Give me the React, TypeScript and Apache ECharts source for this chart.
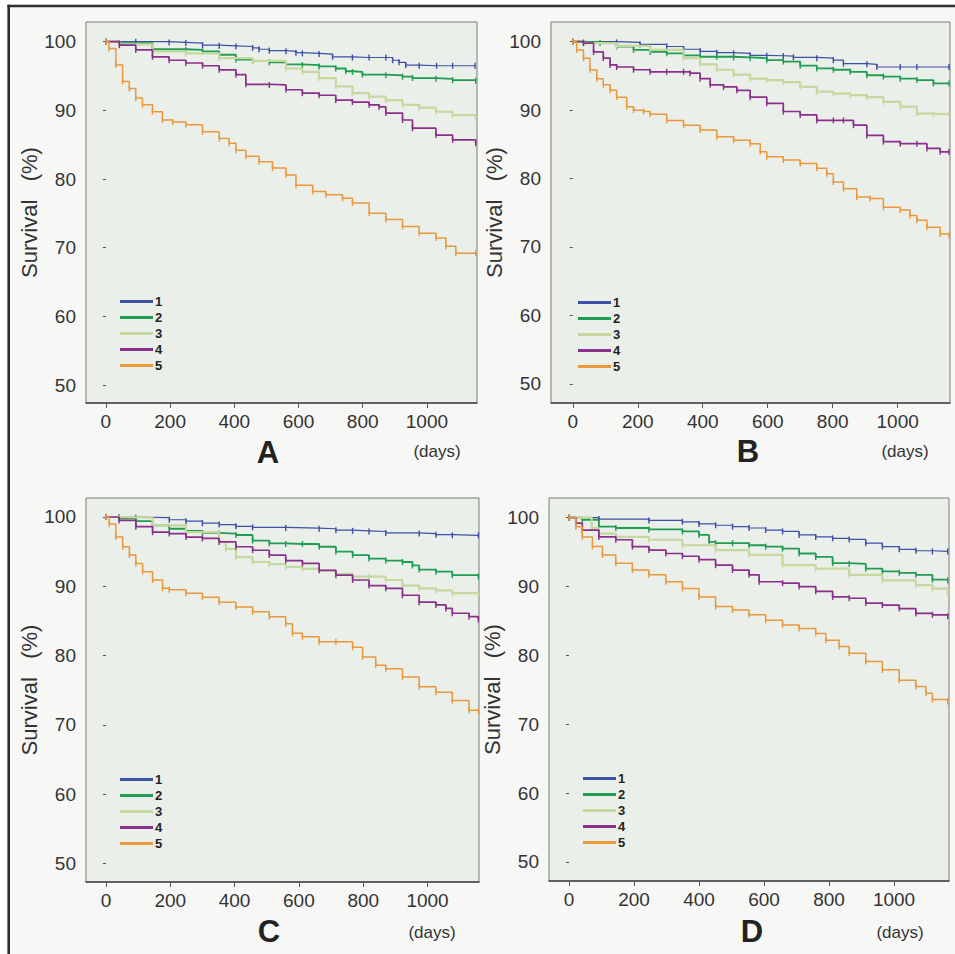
import { useEffect, useRef } from 'react';
import * as echarts from 'echarts';

type Pt = [number, number];

const GROUPS = ['1', '2', '3', '4', '5'];
const PANEL_LETTERS = ['A', 'B', 'C', 'D'];
const X_TICKS = [0, 200, 400, 600, 800, 1000];
const Y_TICKS = [50, 60, 70, 80, 90, 100];
const Y_NAME = 'Survival\u00a0\u00a0\u00a0(%)';
const X_UNIT = '(days)';

// Panel A
const a1: Pt[] = [[0,100],[93,100],[197,99.9],[249,99.8],[301,99.5],[353,99.4],[405,99.3],[457,99.1],[477,98.9],[509,98.7],[561,98.6],[592,98.4],[612,98.3],[664,98.2],[706,97.8],[768,97.7],[820,97.7],[872,97.7],[893,97.3],[913,97.0],[934,96.6],[976,96.5],[1030,96.5],[1080,96.5],[1150,96.5]];
const a2: Pt[] = [[0,100],[42,99.8],[145,98.9],[249,98.8],[301,98.6],[353,98.1],[405,97.4],[457,97.2],[509,97.0],[561,96.7],[612,96.6],[664,96.4],[716,96.1],[747,95.7],[768,95.6],[799,95.2],[872,95.1],[924,94.9],[955,94.7],[1028,94.6],[1080,94.4],[1152,94.3]];
const a3: Pt[] = [[0,100],[42,99.6],[145,98.6],[249,98.3],[353,97.6],[457,97.2],[561,96.1],[612,95.6],[664,94.7],[716,93.5],[768,92.5],[820,92.0],[872,91.5],[924,90.8],[976,90.4],[1028,89.8],[1080,89.3],[1152,88.9]];
const a4: Pt[] = [[0,100],[42,99.5],[93,98.8],[145,97.8],[197,97.3],[249,96.9],[301,96.5],[353,95.9],[405,95.2],[436,93.8],[509,93.7],[561,93.0],[612,92.5],[664,92.2],[716,91.5],[768,91.2],[820,90.8],[851,90.5],[872,89.6],[924,88.6],[955,87.4],[1028,86.4],[1080,85.7],[1152,85.2]];
const a5: Pt[] = [[0,100],[10,99.0],[31,96.6],[52,94.2],[73,93.2],[93,91.8],[114,90.8],[145,89.8],[176,88.6],[208,88.3],[249,87.9],[301,86.9],[353,85.9],[384,85.2],[405,84.2],[436,83.3],[477,82.5],[519,81.6],[561,80.6],[592,79.1],[644,78.2],[685,77.7],[737,77.2],[768,76.5],[820,75.0],[872,74.1],[924,73.1],[976,72.1],[1028,71.4],[1059,70.2],[1090,69.2],[1152,69.2]];

// Panel B
const b1: Pt[] = [[0,100],[135,99.9],[207,99.6],[289,99.3],[341,98.9],[392,98.6],[443,98.4],[495,98.3],[546,98.0],[597,97.95],[648,97.9],[679,97.7],[751,97.6],[802,97.3],[833,96.8],[905,96.7],[936,96.3],[1008,96.3],[1059,96.3],[1158,96.3]];
const b2: Pt[] = [[0,100],[33,99.9],[84,99.8],[135,99.3],[187,98.8],[238,98.5],[289,98.3],[341,98.0],[392,97.8],[443,97.8],[495,97.7],[546,97.6],[597,97.3],[648,97.1],[700,96.5],[751,96.1],[802,95.9],[854,95.6],[905,95.1],[956,94.9],[1008,94.6],[1059,94.4],[1110,93.9],[1158,93.9]];
const b3: Pt[] = [[0,100],[33,99.8],[135,99.4],[238,98.8],[341,97.6],[392,96.7],[443,95.9],[495,95.2],[546,94.6],[597,94.4],[648,94.1],[700,93.4],[751,92.7],[802,92.4],[854,92.2],[905,91.9],[956,91.2],[1008,90.5],[1059,89.5],[1110,89.4],[1158,89.4]];
const b4: Pt[] = [[0,100],[33,99.8],[64,98.5],[94,97.6],[115,96.6],[135,96.3],[187,95.9],[238,95.6],[289,95.6],[341,95.6],[361,95.4],[392,94.6],[423,93.7],[464,93.4],[505,92.9],[546,91.9],[597,91.0],[648,89.8],[700,89.3],[751,88.5],[802,88.5],[833,88.5],[864,87.8],[905,86.3],[956,85.4],[1008,85.1],[1059,85.1],[1090,84.4],[1131,83.9],[1158,83.9]];
const b5: Pt[] = [[0,100],[12,98.8],[33,97.6],[53,95.9],[74,94.6],[94,93.7],[115,92.9],[135,91.9],[166,90.5],[187,90.0],[218,89.8],[238,89.4],[289,88.5],[341,87.8],[392,87.1],[443,86.1],[495,85.6],[546,85.1],[577,83.9],[597,83.2],[648,82.7],[700,82.2],[751,81.5],[782,80.7],[802,79.5],[833,78.5],[874,77.3],[915,77.1],[956,75.8],[1008,75.4],[1038,74.6],[1059,73.9],[1090,72.9],[1131,71.9],[1158,71.7]];

// Panel C
const c1: Pt[] = [[0,100],[41,100],[93,99.9],[197,99.6],[249,99.4],[300,99.1],[352,98.9],[404,98.65],[456,98.5],[559,98.4],[663,98.3],[715,98.1],[767,98.0],[818,97.9],[870,97.7],[974,97.6],[1026,97.45],[1077,97.35],[1158,97.35]];
const c2: Pt[] = [[0,100],[41,99.8],[93,99.4],[145,98.8],[197,98.3],[249,98.0],[300,97.7],[352,97.6],[404,97.4],[456,96.6],[508,96.2],[559,96.1],[611,96.1],[663,95.7],[715,95.0],[767,94.5],[818,94.0],[870,93.7],[922,93.5],[953,93.0],[974,92.4],[1026,92.1],[1077,91.6],[1158,91.4]];
const c3: Pt[] = [[0,100],[41,99.9],[145,98.8],[249,97.8],[352,96.4],[373,95.4],[404,94.2],[456,93.5],[508,93.2],[559,92.8],[611,92.5],[663,92.3],[715,91.8],[767,91.4],[818,91.4],[870,90.9],[922,90.1],[974,89.7],[1026,89.4],[1077,89.0],[1158,88.8]];
const c4: Pt[] = [[0,100],[41,99.5],[93,98.6],[145,97.8],[197,97.6],[249,97.1],[300,96.9],[352,96.4],[404,95.7],[456,95.2],[508,94.5],[559,93.7],[611,93.3],[663,92.3],[715,91.6],[767,90.9],[818,90.1],[870,89.7],[922,88.7],[974,87.7],[1026,87.3],[1057,86.8],[1077,86.1],[1129,85.6],[1158,85.2]];
const c5: Pt[] = [[0,100],[10,99.0],[31,97.1],[52,95.7],[73,94.5],[93,93.3],[114,92.1],[145,90.9],[176,89.7],[197,89.5],[249,89.0],[300,88.4],[352,87.7],[404,87.0],[456,86.3],[508,85.6],[559,84.6],[580,83.2],[611,82.7],[663,82.0],[715,82.0],[767,81.2],[798,79.8],[839,78.6],[870,78.1],[922,76.9],[974,75.5],[1026,74.7],[1077,73.5],[1129,72.1],[1158,72.0]];

// Panel D
const d1: Pt[] = [[0,100],[92,99.8],[246,99.6],[349,99.4],[400,99.1],[451,98.9],[503,98.7],[554,98.5],[605,98.2],[657,98.0],[708,97.5],[759,97.2],[811,97.0],[862,96.85],[913,96.3],[964,95.8],[1016,95.4],[1067,95.2],[1118,95.1],[1165,95.1]];
const d2: Pt[] = [[0,100],[41,99.7],[92,98.7],[144,98.5],[246,98.3],[349,98.0],[400,97.5],[431,96.5],[451,96.3],[503,96.3],[554,96.0],[605,95.8],[657,95.5],[708,94.8],[759,94.3],[811,93.4],[862,93.3],[913,92.6],[964,92.2],[1016,92.0],[1067,91.7],[1118,91.0],[1165,90.9]];
const d3: Pt[] = [[0,100],[70,98.5],[92,97.7],[144,97.2],[246,96.8],[349,96.0],[451,95.3],[554,94.6],[657,93.1],[759,92.6],[862,91.7],[964,90.9],[1067,90.2],[1118,89.7],[1165,89.0]];
const d4: Pt[] = [[0,100],[21,99.2],[41,98.2],[92,97.2],[144,96.8],[195,95.8],[246,95.3],[298,94.8],[349,94.4],[400,93.9],[451,93.1],[503,92.4],[554,91.7],[585,90.7],[657,90.5],[708,90.0],[759,89.3],[811,88.5],[862,88.3],[913,87.6],[964,87.3],[1016,86.8],[1067,86.1],[1118,85.9],[1165,85.7]];
const d5: Pt[] = [[0,100],[21,98.7],[41,97.2],[72,95.8],[103,94.6],[144,93.4],[195,92.4],[246,91.7],[298,90.7],[349,89.7],[400,88.5],[451,87.1],[503,86.6],[554,85.9],[605,85.1],[657,84.4],[708,83.9],[759,83.2],[790,82.2],[831,81.3],[862,80.3],[913,79.1],[964,77.9],[1016,76.4],[1067,75.5],[1098,74.5],[1118,73.6],[1165,73.3]];

const PANEL_DATA: Pt[][][] = [
  [a1, a2, a3, a4, a5],
  [b1, b2, b3, b4, b5],
  [c1, c2, c3, c4, c5],
  [d1, d2, d3, d4, d5],
];

const COLORS = ['#3e4fa6', '#1f9d52', '#c5d89e', '#8a2f8b', '#eb983a'];
const WIDTHS = [1.2, 1.8, 2.2, 1.7, 1.5];

const LAYOUT = [
  { left: 86, top: 22, width: 391, height: 381, xMin: -62, xMax: 1156, yMin: 47.38, yMax: 102.87, lgX: 120, lgY: 294, letter: [268, 452], days: [437, 451] },
  { left: 551, top: 22, width: 399, height: 381, xMin: -67, xMax: 1161, yMin: 47.2, yMax: 102.88, lgX: 578, lgY: 295, letter: [748, 451], days: [905, 451] },
  { left: 86, top: 498, width: 393, height: 384, xMin: -62, xMax: 1160, yMin: 47.3, yMax: 102.74, lgX: 120, lgY: 772, letter: [269, 931], days: [432, 932] },
  { left: 549, top: 498, width: 400, height: 383, xMin: -61.5, xMax: 1169, yMin: 47.24, yMax: 102.86, lgX: 583, lgY: 771, letter: [752, 931], days: [900, 932] },
];

const FONT = 'Liberation Sans, Arial, Helvetica, sans-serif';

export default function App() {
  const ref = useRef<HTMLDivElement>(null);
  useEffect(() => {
    document.body.style.margin = '0';
    const chart = echarts.init(ref.current!, null, { renderer: 'svg' });

    const grid = LAYOUT.map((l) => ({
      left: l.left, top: l.top, width: l.width, height: l.height,
      show: true, backgroundColor: '#eaefe9', borderColor: '#7a7a7a', borderWidth: 1,
    }));
    const xAxis = LAYOUT.map((l, i) => ({
      type: 'value', gridIndex: i, min: l.xMin, max: l.xMax,
      axisLine: { show: true, onZero: false, lineStyle: { color: '#444', width: 1.5 } },
      axisTick: { show: true, customValues: X_TICKS, length: 5, lineStyle: { color: '#555' } },
      axisLabel: { customValues: X_TICKS, formatter: (v: number) => String(v), fontSize: 19, color: '#333', margin: 9, fontFamily: FONT },
      splitLine: { show: false },
    }));
    const yAxis = LAYOUT.map((l, i) => ({
      type: 'value', gridIndex: i, min: l.yMin, max: l.yMax, offset: 2,
      name: Y_NAME, nameLocation: 'middle', nameRotate: 90, nameGap: 34,
      nameTextStyle: { fontSize: 22, color: '#333', fontFamily: FONT },
      axisLine: { show: false },
      axisTick: { show: true, customValues: Y_TICKS, length: 3, lineStyle: { color: '#555' } },
      axisLabel: { customValues: Y_TICKS, formatter: (v: number) => String(v), fontSize: 19, color: '#333', margin: 8, fontFamily: FONT },
      splitLine: { show: false },
    }));
    const series: any[] = [];
    PANEL_DATA.forEach((panel, p) => {
      panel.forEach((data, g) => {
        series.push({
          type: 'line', name: GROUPS[g], xAxisIndex: p, yAxisIndex: p,
          data, step: 'end', color: COLORS[g],
          symbol: 'rect', symbolSize: [1.4, 6], showSymbol: true,
          lineStyle: { width: WIDTHS[g], color: COLORS[g] },
          itemStyle: { color: COLORS[g] },
          silent: true, z: 2 + g,
        });
      });
    });
    const legend = LAYOUT.map((l) => ({
      orient: 'vertical', left: l.lgX, top: l.lgY, padding: 0,
      itemWidth: 33, itemHeight: 3, itemGap: 1, icon: 'rect', selectedMode: false,
      data: GROUPS,
      textStyle: { fontSize: 13, fontWeight: 'bold', color: '#222', lineHeight: 15, fontFamily: FONT, padding: [0, 0, 0, -3] },
    }));
    const graphic: any[] = [
      { type: 'rect', shape: { x: 0, y: 0, width: 955, height: 4.7 }, style: { fill: '#ffffff' } },
      { type: 'rect', shape: { x: 0, y: 0, width: 7.4, height: 954 }, style: { fill: '#ffffff' } },
      { type: 'line', shape: { x1: 7.4, y1: 6, x2: 955, y2: 6 }, style: { stroke: '#2e2e2e', lineWidth: 2.6 } },
      { type: 'line', shape: { x1: 8.7, y1: 4.7, x2: 8.7, y2: 954 }, style: { stroke: '#2e2e2e', lineWidth: 2.6 } },
    ];
    LAYOUT.forEach((l, i) => {
      graphic.push({
        type: 'text', x: l.letter[0], y: l.letter[1],
        style: { text: PANEL_LETTERS[i], font: `bold 31px ${FONT}`, fill: '#222', textAlign: 'center', textVerticalAlign: 'middle' },
      });
      graphic.push({
        type: 'text', x: l.days[0], y: l.days[1],
        style: { text: X_UNIT, font: `17px ${FONT}`, fill: '#333', textAlign: 'center', textVerticalAlign: 'middle' },
      });
    });

    chart.setOption({
      animation: false,
      backgroundColor: '#f7f8f6',
      grid, xAxis, yAxis, series, legend, graphic,
    } as any);
    return () => chart.dispose();
  }, []);
  return <div ref={ref} style={{ width: 955, height: 954 }} />;
}
